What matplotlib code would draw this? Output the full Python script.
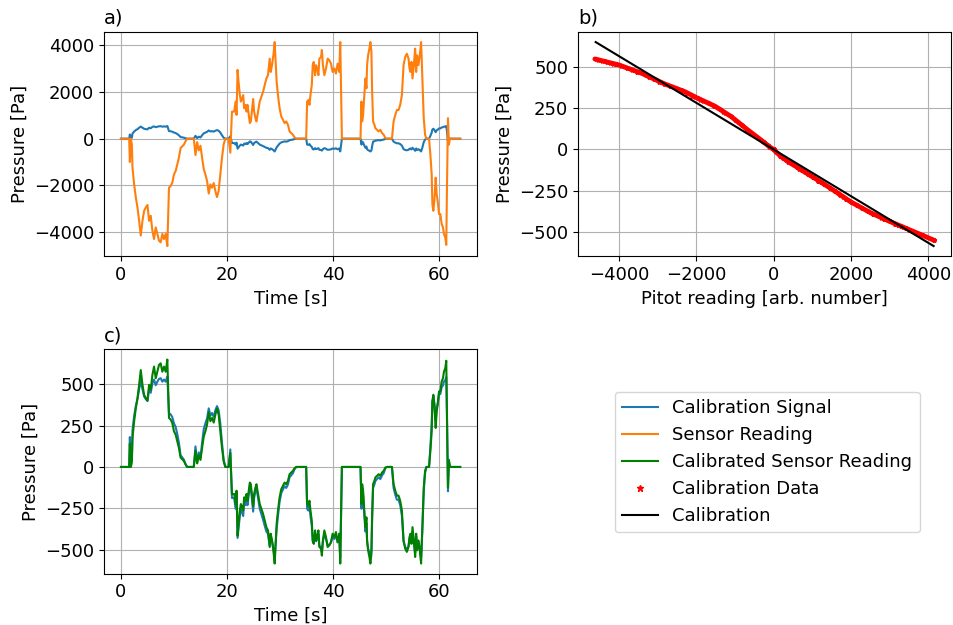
import numpy as np
import matplotlib
matplotlib.use('Agg')
import matplotlib.pyplot as plt
from matplotlib.lines import Line2D

matplotlib.rc('font', size=13)

# time [s] and raw sensor reading (arb. number), read off panel a)
t_read = [0.0, 1.55, 1.68, 1.87, 2.06, 2.18, 2.49, 2.81, 3.12, 3.43, 3.74, 4.06,
          4.37, 4.68, 5.00, 5.31, 5.62, 5.93, 6.24, 6.56, 6.87, 7.18, 7.49, 7.81,
          8.12, 8.43, 8.75, 9.06, 9.37, 9.68, 10.00, 10.31, 10.62, 10.93, 11.25,
          11.56, 11.87, 12.18, 12.49, 13.74, 14.06, 14.37, 14.68, 15.00, 15.31,
          15.62, 15.93, 16.25, 16.56, 16.87, 17.18, 17.50, 17.81, 18.12, 18.43,
          18.74, 19.06, 19.37, 19.69, 20.31, 20.63, 20.94, 21.37, 21.62, 21.81,
          22.00, 22.12, 22.43, 22.62, 22.87, 23.06, 23.25, 23.50, 23.69, 23.87,
          24.12, 24.31, 24.50, 24.75, 24.94, 25.12, 25.37, 25.56, 25.87, 26.18,
          26.50, 26.81, 27.12, 27.43, 27.74, 28.06, 28.25, 28.50, 28.75, 29.00,
          29.19, 29.37, 29.62, 29.93, 30.25, 30.56, 30.87, 31.18, 31.50, 31.81,
          32.12, 32.43, 32.75, 33.06, 34.94, 35.12, 35.37, 35.56, 35.75, 36.00,
          36.18, 36.37, 36.62, 36.81, 37.00, 37.25, 37.43, 37.75, 37.90, 38.10,
          38.37, 38.68, 39.00, 39.31, 39.62, 39.93, 40.25, 40.56, 40.87, 41.18,
          41.37, 41.68, 45.19, 45.37, 45.50, 45.68, 45.87, 46.12, 46.31, 46.43,
          46.62, 46.87, 47.06, 47.25, 47.37, 47.56, 47.81, 48.00, 48.31, 48.62,
          48.93, 49.25, 49.56, 49.87, 50.19, 51.12, 51.43, 51.75, 52.06, 52.37,
          52.68, 53.00, 53.31, 53.62, 53.93, 54.25, 54.43, 54.62, 54.81, 55.00,
          55.25, 55.50, 55.69, 55.87, 56.12, 56.37, 56.62, 56.87, 57.12, 57.37,
          57.62, 58.12, 58.37, 58.62, 58.75, 58.93, 59.12, 59.37, 59.56, 59.75,
          60.00, 60.25, 60.50, 60.75, 60.93, 61.18, 61.37, 61.50, 61.69, 61.87,
          62.06, 64.00]
sensor = [0, 0, -1000, 0, -255, -1250, -1960, -2520, -2950, -3520, -4150, -3520,
          -3090, -2950, -2840, -3520, -3300, -3940, -4300, -3800, -4080, -4370, -4440, -4080,
          -4300, -4080, -4600, -2100, -2030, -1890, -1530, -1390, -1110, -820, -400,
          -330, -255, -110, 0, 0, -700, -150, -500, -300, -820,
          -1300, -1530, -1820, -2350, -1960, -2100, -1900, -2240, -2500, -2240,
          -1530, -820, -250, 0, 0, -600, 1160, 1160, 1590, 1020,
          2950, 2600, 1870, 1590, 1730, 1870, 1300, 1450, 1160, 1450,
          1020, 670, 740, 1300, 1700, 1160, 880, 740, 1160, 1590,
          1800, 2010, 2300, 2580, 2720, 3430, 2860, 3150, 3570, 4140,
          3290, 2440, 1870, 1300, 950, 810, 670, 740, 600, 310,
          240, 170, 60, 0, 0, 1590, 1660, 1450, 1870, 2300,
          3150, 3290, 2720, 3150, 3010, 2720, 3430, 3500, 3800, 3150,
          2720, 3010, 3430, 3360, 3220, 2860, 3010, 2790, 3220, 2860,
          4140, 0, 0, 1590, 740, 1020, 1730, 2580, 2160, 3150,
          3570, 3860, 4140, 3720, 2160, 740, 600, 450, 380, 310,
          380, 240, 170, 30, 0, 0, 740, 1020, 1230, 1230,
          1450, 1870, 3150, 3500, 3640, 3430, 3010, 2860, 3290, 2580,
          3150, 3860, 2860, 3570, 3150, 3570, 4140, 2440, 880, 170,
          0, 0, -680, -1530, -2810, -3090, -2670, -1670, -2380, -2670,
          -3230, -3230, -3660, -3800, -4080, -4230, -4550, -2100, 880, -250,
          0, 0]

# pitot reading vs pressure, read off the red curve of panel b)
cal_x = [-4620, -4000, -3414, -2812, -2296, -1952, -1522, -1092, -662, -318, -103,
         0, 198, 456, 800, 1144, 1488, 2004, 2520, 3036, 3552, 4154]
cal_y = [546, 510, 460, 395, 349, 308, 262, 198, 117, 56, 16,
         0, -44, -85, -135, -185, -236, -317, -383, -437, -488, -548]

# linear calibration (black line)
cal_slope = -0.1408
cal_offset = 0.3

t = np.array(t_read)
sens = np.array(sensor, dtype=float)
signal = np.interp(sens, cal_x, cal_y)
calibrated = cal_slope*sens + cal_offset

fig, ax = plt.subplots(2, 2, figsize=(9.54, 6.25), dpi=100)
fig.subplots_adjust(left=0.109, right=0.997, top=0.949, bottom=0.082,
                    wspace=0.27, hspace=0.415)

a = ax[0, 0]
l_sig, = a.plot(t, signal, color='C0', label='Calibration Signal')
l_sens, = a.plot(t, sens, color='C1', label='Sensor Reading')
a.set_xlabel('Time [s]')
a.set_ylabel('Pressure [Pa]')
a.set_title('a)', loc='left', fontsize=14)
a.grid(True)

b = ax[0, 1]
b.plot(cal_x, cal_y, color='r', lw=3.5, solid_capstyle='round')
b.plot(sens, signal, 'r*', markersize=3)
xs = np.sort(sens)
l_cal, = b.plot(xs, cal_slope*xs + cal_offset, 'k', label='Calibration')
b.set_xlabel('Pitot reading [arb. number]')
b.set_ylabel('Pressure [Pa]')
b.set_title('b)', loc='left', fontsize=14)
b.set_yticks([-500, -250, 0, 250, 500])
b.grid(True)

c = ax[1, 0]
c.plot(t, signal, color='C0')
l_calib, = c.plot(t, calibrated, color='green', label='Calibrated Sensor Reading')
c.set_xlabel('Time [s]')
c.set_ylabel('Pressure [Pa]')
c.set_title('c)', loc='left', fontsize=14)
c.set_yticks([-500, -250, 0, 250, 500])
c.grid(True)

ax[1, 1].axis('off')

l_data = Line2D([], [], color='r', marker='*', linestyle='none', markersize=5,
                label='Calibration Data')
fig.legend(handles=[l_sig, l_sens, l_calib, l_data, l_cal], loc='center',
           bbox_to_anchor=(0.804, 0.261), fontsize=13)

plt.savefig('out.png', dpi=100)
